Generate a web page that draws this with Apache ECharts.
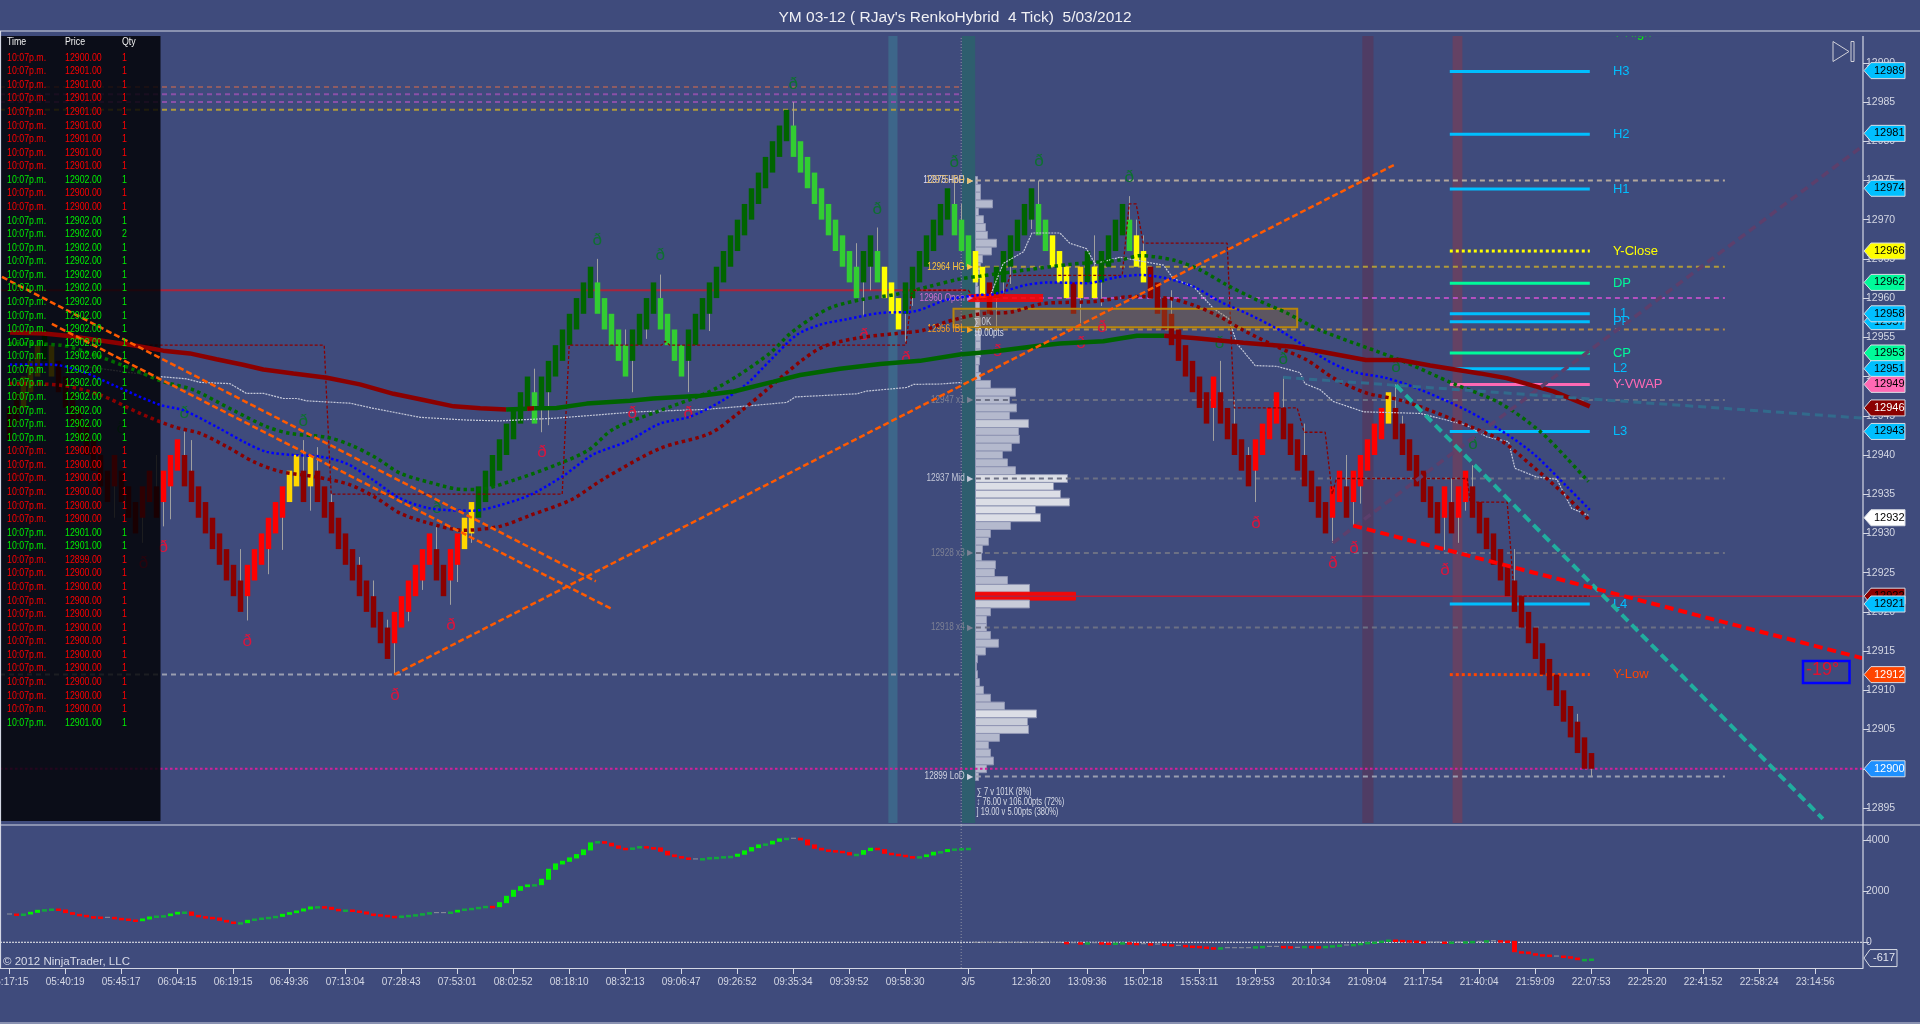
<!DOCTYPE html>
<html><head><meta charset="utf-8"><title>YM 03-12</title>
<style>html,body{margin:0;padding:0;background:#3f4b7c;overflow:hidden}#c{width:1920px;height:1024px}</style>
<script src="https://cdn.jsdelivr.net/npm/echarts@6/dist/echarts.min.js"></script></head>
<body><div id="c"></div>
<script>
const chartTitle="YM 03-12 ( RJay's RenkoHybrid  4 Tick)  5/03/2012";
const timeTickIndex=[0,8,16,24,32,40,48,56,64,72,80,88,96,104,112,120,128,137,146,154,162,170,178,186,194,202,210,218,226,234,242,250,258];
const timeTickLabel=["05:17:15","05:40:19","05:45:17","06:04:15","06:19:15","06:49:36","07:13:04","07:28:43","07:53:01","08:02:52","08:18:10","08:32:13","09:06:47","09:26:52","09:35:34","09:39:52","09:58:30","3/5","12:36:20","13:09:36","15:02:18","15:53:11","19:29:53","20:10:34","21:09:04","21:17:54","21:40:04","21:59:09","22:07:53","22:25:20","22:41:52","22:58:24","23:14:56"];
const priceTicks=[12895,12900,12905,12910,12915,12920,12925,12930,12935,12940,12945,12950,12955,12960,12965,12970,12975,12980,12985,12990];
const oscTicks=[0,2000,4000];
const barMid=[12944,12946,12948,12950,12952,12954,12952,12950,12948,12946,12944,12942,12940,12938,12936,12938,12936,12934,12932,12934,12936,12934,
12936,12938,12940,12938,12936,12934,12932,12930,12928,12926,12924,12922,12924,12926,12928,12930,12932,12934,12936,12938,12936,12938,12936,12934,12932,12930,12928,12926,12924,12922,12920,12918,12916,12918,12920,12922,12924,12926,12928,12926,12924,12926,12928,12930,12932,12934,12936,12938,12940,
12942,12944,12946,12948,12946,12948,12950,12952,12954,12956,12958,12960,12962,12960,12958,12956,12954,12952,12954,12956,12958,12960,12958,12956,12954,12952,12954,12956,12958,12960,12962,12964,12966,12968,12970,12972,12974,12976,12978,12980,12982,12980,12978,12976,12974,12972,12970,12968,12966,12964,12962,12964,12966,12964,12962,12960,12958,12960,12962,12964,12966,12968,12970,12972,12970,12968,12966,
12964,12962,12960,12962,12964,12966,12968,12970,12972,12970,12968,12966,12964,12962,12960,12962,12964,12962,12964,12966,12968,12970,12968,12966,12964,12962,12960,12958,12956,12954,12952,12950,12948,12946,12948,12946,12944,12942,12940,12938,12940,12942,12944,12946,12944,12942,12940,12938,12936,12934,12932,12934,12936,12934,12936,12938,12940,12942,12944,12946,12944,12942,12940,12938,12936,12934,12932,12934,12932,12934,12936,12934,12932,12930,12928,12926,12924,12922,12920,12918,12916,12914,12912,12910,12908,12906,12904,12902,12901];
const barKindRuns=[['D',2],['O',3],['G',1],['O',1],['D',8],['R',1],['D',3],['R',2],['D',1],['R',3],['D',9],['R',6],['O',2],['D',1],['O',1],['D',11],['R',6],['D',2],['R',2],['O',2],['G',8],['L',1],['G',8],['L',5],['G',4],['L',4],['G',15],['L',10],['G',2],['L',1],['Y',3],['G',7],['L',3],['Y',2],['D',1],['G',6],['L',2],['Y',3],['D',1],['O',1],['G',1],['Y',1],['G',4],['L',1],['Y',2],['D',9],['R',1],['D',5],['R',4],['D',7],['R',2],['D',1],['R',5],['O',1],['D',7],['R',1],['D',1],['R',2],['D',18]];
const wickBar=[15,19,21,22,23,25,26,33,34,37,39,42,43,44,46,50,52,54,55,57,59,61,63,64,66,75,76,77,84,88,89,91,93,97,100,112,121,122,123,124,128,129,135,136,141,142,143,146,147,153,155,156,160,161,162,166,172,173,175,177,178,182,185,189,191,192,193,198,199,205,206,207,208,209,215,224,226];
const wickEnd=[12932,12928.8,12940,12930.9,12931.8,12943,12941.9,12928,12918.9,12924.8,12927.9,12941.9,12932.9,12941,12935,12927,12924,12919,12912,12918.8,12922.8,12930.9,12920.9,12923.8,12928.8,12951,12942.9,12943.8,12965,12956,12948,12954.8,12963,12948,12955.8,12985,12967,12957.8,12961,12969,12954.4,12959,12975,12972,12956,12960.6,12961.8,12968.8,12975,12956.8,12968,12959,12973,12970,12968,12961,12941.8,12952,12947,12941,12934,12950,12944,12928.8,12940,12931,12933.8,12949,12945,12927.9,12937,12928.8,12932.9,12938.7,12928,12907,12899];
const maThick=[[0.1,12955.6],[4.9,12955.5],[8.2,12955.2],[13,12954.6],[17.7,12954],[22,12953.3],[25.8,12952.95],[29.6,12952.2],[33.4,12951.5],[36.3,12950.9],[40.6,12950.4],[45.4,12949.85],[50.1,12949],[54.9,12947.8],[59.2,12947],[63.5,12946.2],[67.3,12945.95],[71,12945.8],[74,12945.9],[75,12945.95],[78.2,12946],[82.5,12946.55],[88.7,12946.9],[92,12947.2],[98.7,12947.55],[103.5,12948.1],[109.2,12949.35],[113,12950.2],[118.7,12951],[124.4,12951.6],[130.1,12952],[135.8,12952.8],[140.6,12953.2],[146.8,12953.9],[150.1,12954.2],[156.3,12954.5],[161.1,12955.2],[165,12955.2],[169.2,12954.9],[176.3,12954.3],[183.4,12953.8],[187.3,12953.2],[193.8,12952.1],[198.7,12952.1],[203,12951.4],[210.1,12950.4],[213.9,12949.8],[220.6,12948.1],[225.8,12946.2]];
const maGreen=[[0,12954.2],[7.3,12954],[13,12952.5],[17.7,12950.9],[22,12949.35],[26.3,12948.3],[32,12945.7],[36.8,12943.6],[40.1,12942.75],[45.4,12942.25],[48.7,12941.3],[52.5,12939.6],[55.8,12937.7],[60.1,12936.5],[64.9,12935.6],[66.9,12935.6],[72.1,12936.8],[78,12938.7],[82.7,12940.6],[86.3,12943.3],[92.5,12945.5],[99.6,12947.9],[103.9,12950],[108.7,12953],[111.6,12955.5],[114.9,12957.6],[117.7,12958.9],[122,12959.85],[126.8,12960.5],[131.5,12961.5],[135.6,12962.4],[138.7,12962.8],[145.4,12963.6],[151.5,12964.3],[158.7,12964.85],[161.5,12965.4],[166.3,12964.85],[170.1,12963.6],[173.9,12961.7],[177.7,12960],[182.5,12958.1],[187.3,12955.9],[198.7,12952.1],[206.3,12949.1],[213,12946.6],[218.7,12943],[222.5,12939.6],[225.6,12936.6]];
const maBlue=[[0.1,12951.55],[5.8,12951.55],[10.1,12950.75],[14.9,12948.9],[21.5,12946.4],[24.9,12945.7],[29.6,12943.6],[33.9,12941.5],[36.8,12940.4],[40.6,12940],[44.4,12939.8],[48.2,12938.9],[52,12936.8],[55.8,12934.5],[60.1,12933.2],[66.3,12932.9],[70.1,12933.6],[74.4,12934.9],[79.1,12937.3],[83.3,12940],[88.2,12941.7],[93,12944],[97.3,12944.9],[102,12947],[105.4,12949.1],[109.2,12952.5],[112.5,12955.3],[115.8,12956.6],[119.6,12957.3],[124.4,12958.1],[129.2,12958.3],[134,12959.8],[138.7,12960.4],[140.6,12960.5],[145.4,12961.7],[148.7,12962],[153.9,12961.9],[158.2,12962.65],[161.5,12962.95],[165.4,12962.5],[169.2,12961.45],[173,12959.55],[176.8,12958.05],[181.5,12955.9],[188.2,12952.1],[192,12950.6],[196.8,12949.8],[201.1,12948.5],[208.2,12945.7],[213,12943.2],[217.7,12940.2],[222.5,12936],[225.8,12933]];
const maRed=[[0.1,12949.1],[7.3,12948.9],[13,12947.65],[18.7,12945.3],[23.5,12943.6],[27.3,12942.75],[31.1,12941.05],[34.9,12939.15],[38.7,12937.9],[43.9,12937.2],[48.7,12936.2],[52.5,12934.5],[55.8,12932.6],[59.6,12931.4],[64.9,12930.4],[70.1,12930.9],[74.4,12932.3],[80.3,12934.3],[85,12937],[93,12940.85],[100.1,12942.75],[104.4,12945.5],[108.2,12948.3],[113,12951.9],[116.3,12953.8],[121.1,12954.9],[126.8,12955.5],[130.6,12955.9],[134,12957],[138.7,12958],[143,12958.2],[147.7,12959.3],[154.9,12959.55],[160.6,12960.2],[165.4,12960],[169.2,12959.1],[173,12957.6],[176.3,12955.9],[181.1,12953.8],[185.4,12952.1],[189.2,12949.8],[193.9,12947.9],[198.7,12947],[203.5,12945.5],[208.2,12943.8],[213,12941.9],[217.7,12938.5],[222.5,12934.7],[225.6,12931.8]];
const vwapA=[[10.6,12951.3],[21.5,12950],[25.4,12949.7],[27.3,12949.25],[31.5,12949.1],[33.9,12947.85],[36.3,12947.85],[39.2,12947.2],[41.1,12947.2],[42.5,12946.9],[48.7,12946.6],[52,12945.95],[55.8,12945.3],[58.7,12944.8],[65.4,12944.45],[70.1,12944.35],[78.2,12944.7],[89.6,12945.5],[99.2,12945.8],[105.4,12946.25],[111.1,12946.7],[112.3,12947.4],[121.1,12947.8],[122.5,12948.15],[128.2,12948.6],[129.2,12949],[133,12949.05],[136.1,12949.25]];
const vwapB=[[140.1,12960.2],[142,12964.4],[144.9,12965.9],[146.1,12968.3],[150.1,12968.3],[151.5,12967],[153.9,12966.3],[155.1,12964.4],[158.7,12965.2],[164.9,12964.2],[166.3,12962.5],[169.2,12961.45],[172,12958.7],[174.2,12957.4],[175.4,12954.2],[178,12951.4],[181.1,12951.3],[184.4,12950.5],[185.1,12949.1],[187.3,12948.3],[189.2,12946.8],[193.5,12945.5],[201.6,12945.3],[208.2,12943.8],[211.1,12942.3],[214.2,12941.7],[215.1,12938.3],[218.2,12937.2],[221.1,12936.9],[223.2,12933.2],[225.6,12932.3]];
const stopLine=[[16.5,12954],[45,12954],[46,12935],[79,12935],[80,12954],[93.2,12954],[93.7,12954.5],[94.4,12954],[128.1,12954],[129,12961],[137,12961],[138.1,12959.8],[142,12960.2],[143,12962.9],[159,12962.9],[160,12972],[161,12972],[162,12967],[174,12967],[175,12946],[184,12946],[185,12942.9],[188,12942.9],[189,12935],[189.6,12937],[208.3,12937],[208.7,12934],[214,12934],[215,12922],[225.8,12922]];
const trendOrangeA=[[-1.03,12962.7],[83.8,12923.9]];
const trendOrangeB=[[6.1,12956.7],[86,12920.4]];
const trendOrangeC=[[55,12912],[198.1,12977.1]];
const trendTeal=[[198.1,12948.9],[259.1,12893.6]];
const trendRed=[[192,12931],[264.7,12914.1]];
const trendPurple=[[189.1,12928.8],[264.8,12979.4]];
const trendSteel=[[182,12949.9],[264.8,12944.7]];
const profilePrice=[12975,12974,12973,12972,12971,12970,12969,12968,12967,12966,12965,12964,12963,12962,12961,12960,12959,12958,12957,12956,12955,12954,12953,12952,12951,12950,12949,12948,12947,12946,12945,12944,12943,12942,12941,12940,12939,12938,12937,12936,12935,12934,12933,12932,12931,12930,12929,12928,12927,12926,12925,12924,12923,12922,12921,12920,12919,12918,12917,12916,12915,12914,12913,12912,12911,12910,12909,12908,12907,12906,12905,12904,12903,12902,12901,12900,12899];
const profileVol=[2,5,5,17,3,8,10,12,21,16,7,5,4,2,3,4,4,4,5,5,5,5,5,4,3,5,15,40,34,41,34,53,43,44,36,27,32,40,92,78,85,94,60,65,35,15,13,7,6,20,19,32,54,100,54,15,11,11,15,23,10,2,1,2,4,8,15,29,61,52,53,24,13,15,18,11,3];
const pivotName=["H3","H2","H1","Y-Close","DP","L1","PP","CP","L2","Y-VWAP","L3","L4","Y-Low"];
const pivotPrice=[12988.9,12980.9,12973.9,12966,12961.9,12958,12957,12953,12951,12949,12943,12921,12912];
const pivotColor=["#00bfff","#00bfff","#00bfff","#ffff00","#00fa9a","#00bfff","#00bfff","#00fa9a","#00bfff","#ff69b4","#00bfff","#00bfff","#ff4500"];
const tagPrice=[12989,12981,12974,12966,12962,12957,12958,12953,12951,12949,12946,12943,12932,12922,12921,12912,12900];
const tagFill=["#00bfff","#00bfff","#00bfff","#ffff00","#00fa9a","#00bfff","#00bfff","#00fa9a","#00bfff","#ff69b4","#8b0000","#00bfff","#ffffff","#8b0000","#00bfff","#ff4500","#1e90ff"];
const tagInk=["#000","#000","#000","#000","#000","#000","#000","#000","#000","#000","#fff","#000","#000","#000","#000","#fff","#fff"];
const markerRed=[[22,12928.2],[19.2,12926.2],[0.8,12937.4],[34,12916.2],[63.1,12918.3],[55.1,12909.3],[76.1,12940.3],[89,12945.3],[97,12945.3],[122.1,12955.2],[128.1,12952.3],[141.2,12953.2],[153.1,12954.2],[156.1,12956.3],[178.1,12931.3],[189.1,12926.2],[192.1,12928.1],[205.1,12925.3]];
const markerGreen=[[25,12945.3],[42,12944.3],[61.1,12933.2],[16,12943.4],[84,12967.4],[93,12965.4],[124,12971.3],[135,12977.3],[112,12987.2],[160,12975.4],[147.1,12977.4],[172.9,12954.2],[182,12952.2],[198.1,12951.2],[209.1,12941.3]];
const oscValues=[1106,1067,1106,1172,1250,1276,1302,1263,1159,1093,1054,1002,989,976,976,937,911,872,845,911,989,1028,1041,1106,1172,1185,1054,1002,976,950,858,793,754,767,858,911,950,976,1015,1093,1159,1224,1302,1380,1394,1367,1289,1250,1263,1224,1185,1106,1080,1054,1015,1002,1028,1054,1080,1119,1159,1159,1159,1185,1250,1302,1328,1367,1407,1394,1550,1798,2033,2176,2242,2255,2464,2855,3064,3168,3299,3429,3612,3886,3938,3873,3769,3677,3651,3690,3743,3703,3690,3560,3416,3351,3299,3260,3260,3273,3312,3325,3351,3364,3442,3573,3703,3808,3847,3951,4043,4069,4069,4003,3808,3677,3612,3586,3560,3508,3416,3442,3586,3677,3625,3481,3442,3403,3351,3325,3351,3416,3521,3547,3625,3651,3664,3677,
-3,-3,-3,-3,-3,-3,-3,-3,-3,-3,-3,-3,-3,
-16,-16,-29,-16,-16,-29,-42,-29,-16,-42,-55,-55,-68,-68,-94,-120,-120,-146,-159,-185,-212,-225,-212,-212,-212,-212,-212,-172,-159,-159,-159,-172,-198,-198,-159,-172,-185,-159,-133,-107,-107,-81,-42,-3,10,49,88,75,62,49,23,10,10,10,-3,10,10,23,36,36,62,62,49,36,-368,-381,-447,-486,-499,-538,-538,-564,-616,-681,-668,-655];
const tapeTime=Array(50).fill("10:07p.m.");
const tapePrice=[12900,12901,12901,12901,12901,12901,12901,12901,12901,12902,12900,12900,12902,12902,12902,12902,12902,12902,12902,12902,12902,12902,12902,12902,12902,12902,12902,12902,12902,12900,12900,12900,12900,12900,12900,12901,12901,12899,12900,12900,12900,12900,12900,12900,12900,12900,12900,12900,12900,12901];
const tapeQty=[1,1,1,1,1,1,1,1,1,1,1,1,1,2,1,1,1,1,1,1,1,1,1,1,1,1,1,1,1,1,1,1,1,1,1,1,1,1,1,1,1,1,1,1,1,1,1,1,1,1];
const tapeUp=[0,0,0,0,0,0,0,0,0,1,0,0,1,1,1,1,1,1,1,1,1,1,1,1,1,1,1,1,1,0,0,0,0,0,0,1,1,0,0,0,0,0,0,0,0,0,0,0,0,1];

const FONT='"Liberation Sans",Arial,sans-serif';
const X0=-1.314,X1=264.83,YMIN=12892.83,YMAX=12994.05,OSCMIN=-1006,OSCMAX=4587;
const kindColor={D:'#8b0000',R:'#ff0000',G:'#006400',L:'#32cd32',Y:'#ffff00',O:'#ffd700'};
const barKind=[];barKindRuns.forEach(r=>{for(let k=0;k<r[1];k++)barKind.push(r[0]);});

function line(name,data,color,width,dash,opt){return Object.assign({type:'line',name,data,silent:true,showSymbol:false,symbol:'none',animation:false,clip:true,z:6,
  lineStyle:{color,width,type:dash||'solid',cap:'butt'}},opt||{});}
function level(p,a,b,color,width,dash,z){return line('level',[[a,p],[b,p]],color,width,dash,{z:z||3});}

const series=[];
const bandStart=[125.6,136.1,193.3,206.2],bandEnd=[126.9,138,194.9,207.6],bandFill=['rgba(60,125,150,.55)','rgba(42,100,105,.75)','rgba(90,50,85,.6)','rgba(125,60,85,.6)'];
series.push({type:'custom',name:'bands',z:1,silent:true,animation:false,clip:true,data:bandStart.map((s,k)=>[s,bandEnd[k]]),encode:{x:[0,1]},
 renderItem(p,api){const a=api.coord([api.value(0),12993.4]),b=api.coord([api.value(1),12893.1]);
  return {type:'rect',shape:{x:a[0],y:a[1],width:b[0]-a[0],height:b[1]-a[1]},style:{fill:bandFill[p.dataIndex]}};}});
[[12986.9,'#8f5c62'],[12986,'#8a50a8'],[12985,'#8a50a8'],[12984,'#b09a3a'],[12912,'#9a9eb0']].forEach(l=>series.push(level(l[0],X0,136,l[1],2,[5,4])));
series.push(level(12961,X0,136.5,'#a8243c',2));
series.push(level(12900,X0,X1,'#d4209c',2,[2.5,2.5]));
[[12975,'#b3a79c'],[12964,'#b09a3a'],[12960,'#b450c0'],[12956,'#b08a4a'],[12947,'#6c7084'],[12937,'#6c7084'],[12927.5,'#6c7084'],[12918,'#6c7084'],[12899,'#9a9eb0']].forEach(l=>series.push(level(l[0],138.1,245.1,l[1],2,[5,4])));
series.push(level(12922,138.1,X1,'#b0203c',1.5));
pivotName.forEach((n,k)=>{const dotted=(n==='Y-Close'||n==='Y-Low');series.push(level(pivotPrice[k],205.8,225.8,pivotColor[k],3,dotted?[3,3]:null,4));});
series.push({type:'custom',name:'profile',xAxisIndex:2,yAxisIndex:2,z:2,silent:true,animation:false,data:profileVol.map((v,k)=>[v,profilePrice[k]]),encode:{x:0,y:1},
 renderItem(p,api){const v=api.value(0),pr=api.value(1),a=api.coord([0,pr+.5]),b=api.coord([v,pr-.5]);
  const poc=pr===12922;
  return {type:'rect',shape:{x:a[0],y:a[1],width:b[0]-a[0],height:b[1]-a[1]},style:{fill:poc?'#f20808':v>=60?'#dcdee6':v>=50?'#c8ccd9':'#b4b9cd',stroke:poc?'#f20808':'#8f95b3',lineWidth:1}};}});
series.push(line('stop',stopLine,'#8b0000',1.3,[3,2],{z:6}));
series.push({type:'custom',name:'wicks',z:5,silent:true,animation:false,data:wickBar.map((b,k)=>[b,wickEnd[k]]),encode:{x:0,y:1},
 renderItem(p,api){const i=api.value(0),a=api.coord([i,barMid[i]]),b=api.coord([i,api.value(1)]);const x=Math.round(a[0])+.5;
  return {type:'line',shape:{x1:x,y1:a[1],x2:x,y2:b[1]},style:{stroke:'#a0a0a0',lineWidth:1}};}});
series.push({type:'custom',name:'bars',z:5,silent:true,animation:false,data:barMid.map((m,i)=>[i,m]),encode:{x:0,y:1},
 renderItem(p,api){const i=api.value(0),m=api.value(1),h=i===226?1:2,a=api.coord([i,m+h]),b=api.coord([i,m-h]);
  return {type:'rect',shape:{x:Math.round(a[0])-2.25,y:a[1],width:5.5,height:b[1]-a[1]},style:{fill:kindColor[barKind[i]]}};}});
series.push(line('vwapA',vwapA,'#c4c8d8',1.2,[2,1]));
series.push(line('vwapB',vwapB,'#c4c8d8',1.2,[2,1]));
series.push(line('maGreen',maGreen,'#006a00',3.5,[3.5,3.5],{smooth:.3,z:41}));
series.push(line('maBlue',maBlue,'#0000ff',2.5,[2.5,2.5],{smooth:.3,z:41}));
series.push(line('maRed',maRed,'#8b0000',3.5,[3.5,3.5],{smooth:.3,z:41}));
const seg=(a,b)=>maThick.filter(q=>q[0]>=a&&q[0]<=b);
[[0,71,'#8b0000'],[71,74,'#006400'],[74,75,'#8b0000'],[75,165,'#006400'],[165,230,'#8b0000']].forEach(s=>series.push(line('maThick',seg(s[0],s[1]),s[2],4.5,'solid',{z:42})));
[[trendPurple,'#5c3f6c',3.5,[8,5]],[trendSteel,'#326a8c',3,[8,5]],[trendOrangeA,'#ff5a00',2.5,[6,3]],[trendOrangeB,'#ff5a00',2.5,[6,3]],[trendOrangeC,'#ff5a00',2.5,[6,3]],[trendTeal,'#20ae9f',4,[9,5]],[trendRed,'#ff0000',4,[9,5]]].forEach(t=>series.push(line('trend',t[0],t[1],t[2],t[3],{z:43,clip:false})));
series.push({type:'custom',name:'box',z:9,silent:true,animation:false,data:[[134.9,12958.65,184,12956.28]],encode:{x:[0,2],y:[1,3]},
 renderItem(p,api){const a=api.coord([api.value(0),api.value(1)]),b=api.coord([api.value(2),api.value(3)]);
  return {type:'rect',shape:{x:a[0],y:a[1],width:b[0]-a[0],height:b[1]-a[1]},style:{fill:'rgba(150,110,50,.35)',stroke:'#b8860b',lineWidth:2}};}});
series.push(line('redBar',[[137,12960],[147.7,12960]],'rgba(255,0,0,.85)',8,'solid',{z:6}));
function texts(name,rows,z,scale){return {type:'custom',name,z:z||10,silent:true,animation:false,clip:false,data:rows.map(r=>[r[0],r[1]]),encode:{x:0,y:1},
 renderItem(p,api){const c=api.coord([api.value(0),api.value(1)]),r=rows[p.dataIndex];
  return {type:'text',x:c[0],y:c[1],scaleX:scale||1,style:{text:r[2],fill:r[3],font:(r[5]||10)+'px '+FONT,align:r[4]||'left',verticalAlign:'middle'}};}};}
series.push(texts('redMarks',markerRed.map(m=>[m[0],m[1],'ð','#dc143c','center',17])));
series.push(texts('greenMarks',markerGreen.map(m=>[m[0],m[1],'ð','#0e7030','center',17])));
const levelTag=[[12975,'12975 HoD','#d8dcff'],[12975,'12975 IBH','#e8c070'],[12964,'12964 HG','#ffc83c'],[12960,'12960 Open','#d070d0'],[12956,'12956 IBL','#ffa020'],[12947,'12947 x1','#7d8194'],[12937,'12937 Mid','#c4c8d8'],[12927.5,'12928 x3','#7d8194'],[12918,'12918 x4','#7d8194'],[12899,'12899 LoD','#d0d3e0']];
series.push(texts('levelLabels',levelTag.map(l=>[136.5,l[0],l[1],l[2],'right',10.5]),11,.78));
series.push(texts('levelArrows',levelTag.map(l=>[137.3,l[0],'▶',l[2],'center',8]),11));
series.push(texts('pivotLabels',pivotName.map((n,k)=>[229.1,pivotPrice[k],n,pivotColor[k],'left',13])));
series.push(texts('statLabels',[[137.8,12956.9,'∑ 0K','#c8ccd8','left',10.5],[137.8,12955.6,'↕0.00pts','#d8dce8','left',10.5],[138.2,12899-1.95,'∑ 7 v 101K (8%)','#d8dce8','left',10],[138.2,12899-3.25,'↕ 76.00 v 106.00pts (72%)','#d8dce8','left',10],[138.2,12899-4.6,'] 19.00 v 5.00pts (380%)','#d8dce8','left',10]],10,.75));
series.push(texts('yHigh',[[229.1,12993.8,'Y-High','#00ff00','left',13]],10));
series.push({type:'custom',name:'tags',z:50,silent:true,animation:false,clip:false,data:tagPrice.map(v=>[X1,v]),encode:{x:0,y:1},
 renderItem(p,api){const c=api.coord([X1,api.value(1)]),x=c[0],y=c[1],k=p.dataIndex;
  return {type:'group',children:[{type:'polygon',shape:{points:[[x+1,y],[x+8,y-8],[x+42,y-8],[x+42,y+8],[x+8,y+8]]},style:{fill:tagFill[k],stroke:'#d8dce4',lineWidth:1}},
   {type:'text',x:x+11,y:y,style:{text:String(tagPrice[k]),fill:tagInk[k],font:'11px '+FONT,verticalAlign:'middle'}}]};}});
series.push(line('break',[[136,YMIN],[136,12993.4]],'#8d90a4',1,[1,2],{z:3}));
series.push(line('breakLow',[[136,OSCMIN],[136,OSCMAX]],'#8d90a4',1,[1,2],{z:3,xAxisIndex:1,yAxisIndex:1}));
series.push(line('zero',[[X0,0],[X1,0]],'#f0f0f0',1,[2,1],{z:3,xAxisIndex:1,yAxisIndex:1}));
series.push({type:'custom',name:'osc',xAxisIndex:1,yAxisIndex:1,z:5,silent:true,animation:false,data:oscValues.map((v,i)=>[i,v]),encode:{x:0,y:1},
 renderItem(p,api){const i=api.value(0),v=api.value(1),o=(i===0||i===138)?v:oscValues[i-1],a=api.coord([i,Math.max(v,o)]),b=api.coord([i,Math.min(v,o)]);
  const d=v-o,x=Math.round(a[0])-2;
  if(Math.abs(d)<8)return {type:'group',children:[{type:'rect',shape:{x,y:a[1]-.5,width:5,height:1},style:{fill:'#8f929c'}}]};
  const fill=d>0?(d>=60?'#00f000':'#12a83c'):'#ff0000';
  return {type:'rect',shape:{x,y:a[1]-.5,width:5,height:Math.max(2.5,b[1]-a[1]+1)},style:{fill}};}});
series.push({type:'custom',name:'oscTag',xAxisIndex:1,yAxisIndex:1,z:50,silent:true,animation:false,clip:false,data:[[X1,-617]],encode:{x:0,y:1},
 renderItem(p,api){const c=api.coord([X1,api.value(1)]),x=c[0],y=c[1];
  return {type:'group',children:[{type:'polygon',shape:{points:[[x+1,y],[x+7,y-8.5],[x+34,y-8.5],[x+34,y+8.5],[x+7,y+8.5]]},style:{fill:'#3f4b7c',stroke:'#d8dce4',lineWidth:1}},
   {type:'text',x:x+10,y:y,style:{text:'-617',fill:'#e4e6f0',font:'11px '+FONT,verticalAlign:'middle'}}]};}});

const g=[];
g.push({type:'rect',z:40,silent:true,shape:{x:1,y:36,width:159.5,height:785},style:{fill:'rgba(0,0,2,.82)'}});
[['Time',7],['Price',65],['Qty',122]].forEach(h=>g.push({type:'text',z:101,silent:true,x:h[1],y:42,scaleX:.8,style:{text:h[0],fill:'#f0f0f0',font:'11px '+FONT,verticalAlign:'middle'}}));
tapeTime.forEach((t,k)=>{const y=57.7+13.57*k,c=tapeUp[k]?'#00ee00':'#ff0000';
 [[t,7],[tapePrice[k].toFixed(2),65],[String(tapeQty[k]),122]].forEach(e=>g.push({type:'text',z:101,silent:true,x:e[1],y,scaleX:.8,style:{text:e[0],fill:c,font:'11px '+FONT,verticalAlign:'middle'}}));});
const frame='#d4d7e4';
g.push({type:'rect',z:90,silent:true,shape:{x:1600,y:20,width:90,height:16.5},style:{fill:'#3f4b7c'}});
[[0,31,1920,31],[0,825,1920,825],[0.5,31,0.5,968],[1863,36,1863,968],[0,1023,1920,1023]].forEach(l=>g.push({type:'line',z:95,silent:true,shape:{x1:l[0],y1:l[1],x2:l[2],y2:l[3]},style:{stroke:frame,lineWidth:1.2}}));
g.push({type:'polygon',z:60,silent:true,shape:{points:[[1833,41.5],[1849,51.5],[1833,61.5]]},style:{fill:'none',stroke:'#d0d0d8',lineWidth:1}});
g.push({type:'rect',z:60,silent:true,shape:{x:1851,y:41.5,width:3,height:20},style:{fill:'none',stroke:'#d0d0d8',lineWidth:1}});
g.push({type:'rect',z:60,silent:true,shape:{x:1803,y:661,width:46.5,height:22},style:{fill:'none',stroke:'#0000ff',lineWidth:2.5}});
g.push({type:'text',z:60,silent:true,x:1806,y:670,style:{text:'-19°',fill:'#e01030',font:'18px '+FONT,verticalAlign:'middle'}});
g.push({type:'text',z:60,silent:true,x:3,y:962,style:{text:'© 2012 NinjaTrader, LLC',fill:'#d8dbe8',font:'11.5px '+FONT,verticalAlign:'middle'}});

const axisInk='#d4d7e4';
const hiddenX=(idx,min,max)=>({type:'value',gridIndex:idx,min,max,show:false});
const opt={animation:false,backgroundColor:'#3f4b7c',
 title:{text:chartTitle,left:950,top:5,textAlign:'center',textStyle:{color:'#f0f0f4',fontSize:15.5,fontWeight:'normal',fontFamily:FONT}},
 grid:[{left:0,top:31,width:1863,height:794,outerBoundsMode:'none'},{left:0,top:825,width:1863,height:143,outerBoundsMode:'none'},{left:975.5,top:31,width:300,height:794,outerBoundsMode:'none'}],
 xAxis:[hiddenX(0,X0,X1),
  {type:'value',gridIndex:1,min:X0,max:X1,axisLine:{show:true,onZero:false,lineStyle:{color:axisInk,width:1.2}},splitLine:{show:false},
   axisTick:{show:true,length:6,customValues:timeTickIndex,lineStyle:{color:axisInk}},
   axisLabel:{customValues:timeTickIndex,color:axisInk,fontSize:10,fontFamily:FONT,margin:9,formatter:v=>timeTickLabel[timeTickIndex.indexOf(Math.round(v))]||''}},
  hiddenX(2,0,300)],
 yAxis:[{type:'value',gridIndex:0,position:'right',min:YMIN,max:YMAX,axisLine:{show:false,onZero:false},splitLine:{show:false},
   axisTick:{show:true,length:6,customValues:priceTicks,lineStyle:{color:axisInk}},
   axisLabel:{customValues:priceTicks,color:axisInk,fontSize:10.5,fontFamily:FONT,margin:3,formatter:v=>String(v)}},
  {type:'value',gridIndex:1,position:'right',min:OSCMIN,max:OSCMAX,axisLine:{show:false,onZero:false},splitLine:{show:false},
   axisTick:{show:true,length:6,customValues:oscTicks,lineStyle:{color:axisInk}},
   axisLabel:{customValues:oscTicks,color:axisInk,fontSize:10.5,fontFamily:FONT,margin:3,formatter:v=>String(v)}},
  {type:'value',gridIndex:2,min:YMIN,max:YMAX,show:false}],
 series:series.map(s=>Object.assign({xAxisIndex:0,yAxisIndex:0},s)),
 graphic:{elements:g}};
echarts.init(document.getElementById('c'),null,{renderer:'canvas'}).setOption(opt);
</script></body></html>
